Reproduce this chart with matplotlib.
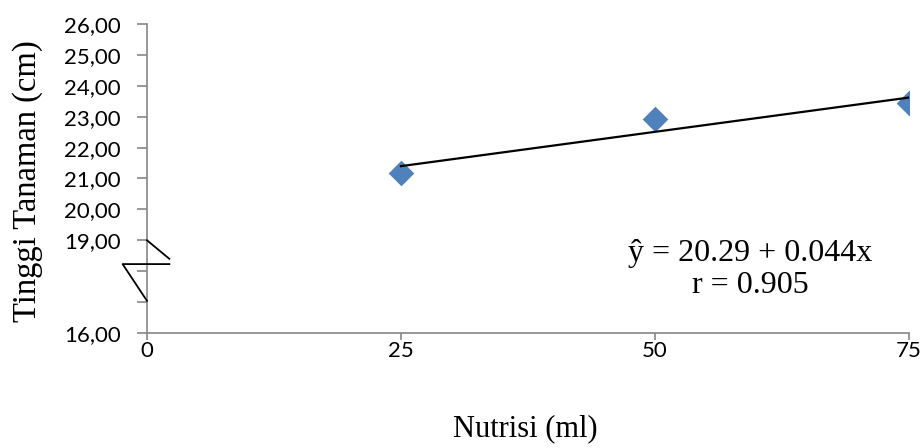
import numpy as np
import matplotlib.pyplot as plt

# data
nutrisi = [25, 50, 75]
tinggi = [21.18, 22.93, 23.44]
trend_x = [25, 75]
trend_y = [21.40, 23.62]
y_ticks = [16, 17, 18, 19, 20, 21, 22, 23, 24, 25, 26]
y_labels = ['16,00', '', '', '19,00', '20,00', '21,00', '22,00', '23,00', '24,00', '25,00', '26,00']
x_ticks = [0, 25, 50, 75]

grey = '#868686'
serif = ['Liberation Serif', 'DejaVu Serif']

fig = plt.figure(figsize=(9.24, 4.48), dpi=100)
ax = fig.add_axes([147 / 924, 1 - 333 / 448, (909 - 147) / 924, (333 - 24) / 448])

ax.scatter(nutrisi, tinggi, marker='D', s=170, color='#4f81bd', zorder=3, linewidths=0)
ax.plot(trend_x, trend_y, color='black', lw=1.6, zorder=4)

ax.set_xlim(0, 75)
ax.set_ylim(16, 26)
ax.set_xticks(x_ticks)
ax.set_yticks(y_ticks)
ax.set_yticklabels(y_labels)

for s in ['top', 'right']:
    ax.spines[s].set_visible(False)
for s in ['left', 'bottom']:
    ax.spines[s].set_color(grey)
    ax.spines[s].set_linewidth(1.2)
ax.spines['left'].set_zorder(1)

ax.tick_params(axis='both', colors=grey, width=1.2, labelcolor='black', labelsize=16)
ax.tick_params(axis='y', length=7, pad=12)
ax.tick_params(axis='x', length=5, pad=1)
for lab in ax.get_xticklabels() + ax.get_yticklabels():
    lab.set_family('Lato')

# axis break symbol
ax.plot([0, 2.2], [19.0, 18.40], color='black', lw=1.3, clip_on=False, zorder=4)
ax.plot([2.2, -2.4, 0], [18.23, 18.23, 17.04], color='black', lw=1.3,
        clip_on=False, zorder=4)

ax.text(59.4, 18.05, 'ŷ = 20.29 + 0.044x\nr = 0.905', ha='center', va='center',
        fontsize=23, family=serif, linespacing=1.12)

fig.text(28 / 924, 1 - 181 / 448, 'Tinggi Tanaman (cm)', rotation=90, ha='center',
         va='center', fontsize=23.5, family=serif)
fig.text(525 / 924, 1 - 429 / 448, 'Nutrisi (ml)', ha='center', va='center',
         fontsize=22, family=serif)

fig.savefig('out.png', dpi=100)
